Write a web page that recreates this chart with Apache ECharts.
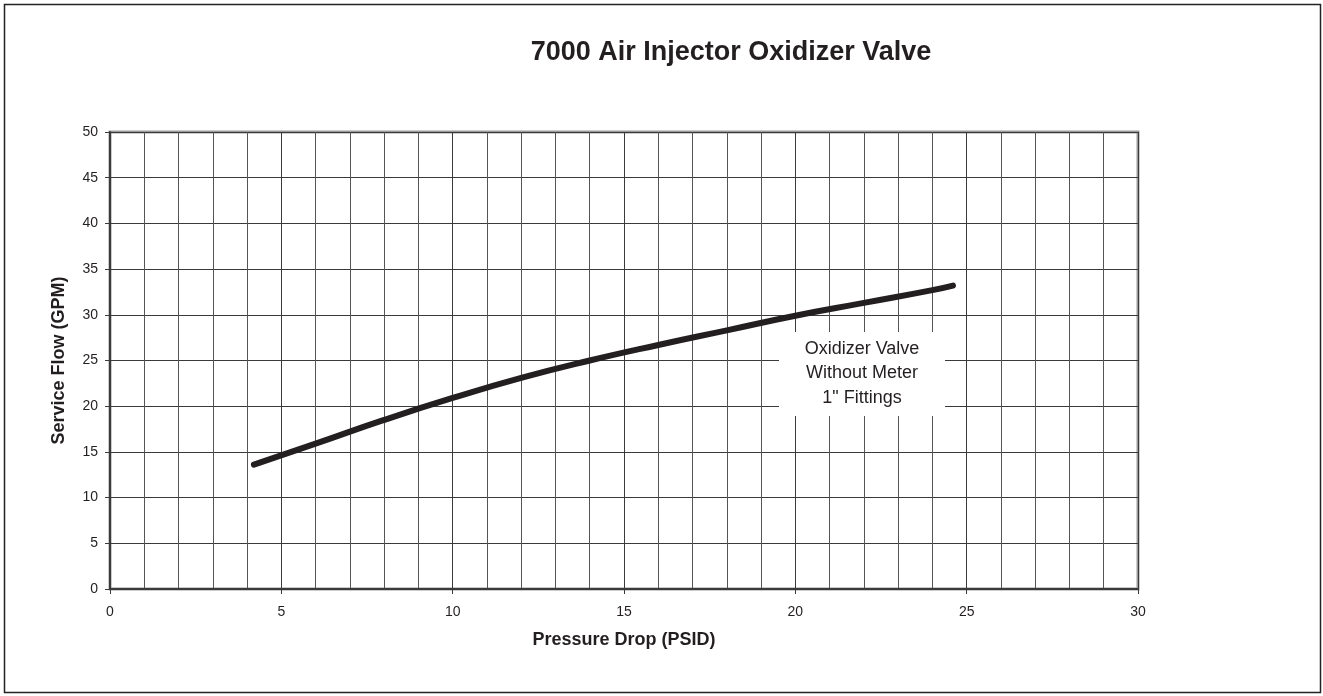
<!DOCTYPE html>
<html>
<head>
<meta charset="utf-8">
<script src="https://cdn.jsdelivr.net/npm/echarts@6/dist/echarts.min.js"></script>
<style>
  html, body { margin: 0; padding: 0; background: #fff; }
  #chart { width: 1323px; height: 696px; }
</style>
</head>
<body>
<div id="chart"></div>
<script>
// Pressure drop (PSID) vs service flow (GPM)
const pressureDrop = [4.2, 6, 8, 10, 12, 14, 16, 18, 20, 22, 24, 24.6];
const serviceFlow  = [13.6, 15.9, 18.5, 20.9, 23.1, 25.0, 26.7, 28.3, 29.9, 31.3, 32.7, 33.2];
const xTicks = [0, 30, 5];
const yTicks = [0, 50, 5];
const titleText = '7000 Air Injector Oxidizer Valve';
const noteLines = ['Oxidizer Valve', 'Without Meter', '1" Fittings'];

const font = '"Liberation Sans", Arial, sans-serif';
const ink = '#231f20';
const chart = echarts.init(document.getElementById('chart'));

const points = pressureDrop.map((x, i) => [x, serviceFlow[i]]);

chart.setOption({
  animation: false,
  backgroundColor: '#fff',
  grid: {
    left: 110, top: 132, right: 185, bottom: 107,
    show: true, borderColor: '#9a9a9a', borderWidth: 3, backgroundColor: '#fff'
  },
  xAxis: {
    type: 'value', min: xTicks[0], max: xTicks[1], interval: xTicks[2],
    name: 'Pressure Drop (PSID)', nameLocation: 'middle', nameGap: 42,
    nameTextStyle: { fontFamily: font, fontSize: 18, fontWeight: 'bold', color: ink },
    axisLine: { show: true, onZero: false, lineStyle: { color: '#3a3a3a', width: 2 } },
    axisTick: { show: true, length: 5, lineStyle: { color: '#3a3a3a' } },
    minorTick: { show: false, splitNumber: 5 },
    axisLabel: { fontFamily: font, fontSize: 14, color: ink, margin: 16 },
    splitLine: { show: true, lineStyle: { color: '#3a3a3a', width: 1 } },
    minorSplitLine: { show: true, lineStyle: { color: '#555', width: 1 } }
  },
  yAxis: {
    type: 'value', min: yTicks[0], max: yTicks[1], interval: yTicks[2],
    name: 'Service Flow (GPM)', nameLocation: 'middle', nameGap: 42,
    nameTextStyle: { fontFamily: font, fontSize: 18, fontWeight: 'bold', color: ink },
    axisLine: { show: true, onZero: false, lineStyle: { color: '#3a3a3a', width: 2 } },
    axisTick: { show: true, length: 5, lineStyle: { color: '#3a3a3a' } },
    axisLabel: { fontFamily: font, fontSize: 14, color: ink, margin: 12 },
    splitLine: { show: true, lineStyle: { color: '#3a3a3a', width: 1 } }
  },
  series: [{
    type: 'line',
    data: points,
    smooth: 0.5,
    showSymbol: false,
    lineStyle: { color: ink, width: 6, cap: 'round', join: 'round' },
    z: 5
  }],
  graphic: [
    {
      type: 'rect', silent: true, z: -1,
      shape: { x: 4.5, y: 4.5, width: 1316, height: 688 },
      style: { fill: 'none', stroke: '#222', lineWidth: 1.5 }
    },
    {
      type: 'text', z: 11,
      x: 731, y: 53,
      style: {
        text: titleText,
        fontFamily: font, fontSize: 27, fontWeight: 'bold',
        fill: ink, align: 'center', verticalAlign: 'middle'
      }
    },
    {
      type: 'rect', z: 10,
      shape: { x: 779, y: 332, width: 166, height: 84 },
      style: { fill: '#fff', stroke: 'none' }
    },
    {
      type: 'text', z: 11,
      x: 862, y: 373.5,
      style: {
        text: noteLines.join('\n'),
        fontFamily: font, fontSize: 18, lineHeight: 24.5,
        fill: ink, align: 'center', verticalAlign: 'middle'
      }
    }
  ]
});
</script>
</body>
</html>
